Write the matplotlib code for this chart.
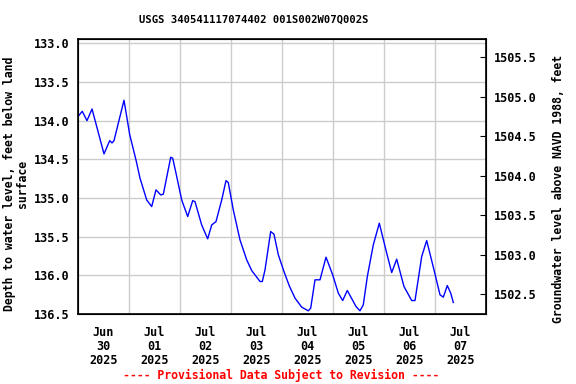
import matplotlib
matplotlib.use("Agg")
import matplotlib.pyplot as plt
import numpy as np

# days since Jun 30 2025 00:00, depth to water (ft below land surface)
days = [0.020, 0.084, 0.176, 0.275, 0.510, 0.622, 0.667, 0.706, 0.902, 1.014,
        1.143, 1.216, 1.347, 1.445, 1.529, 1.622, 1.673, 1.818, 1.857, 1.922,
        2.033, 2.151, 2.249, 2.294, 2.425, 2.543, 2.622, 2.706, 2.818, 2.902,
        2.947, 3.045, 3.176, 3.308, 3.406, 3.504, 3.569, 3.614, 3.667, 3.778,
        3.843, 3.928, 4.039, 4.143, 4.255, 4.386, 4.516, 4.563, 4.647, 4.745,
        4.863, 4.994, 5.104, 5.190, 5.280, 5.451, 5.529, 5.594, 5.673, 5.790,
        5.908, 6.053, 6.151, 6.249, 6.392, 6.543, 6.608, 6.739, 6.837, 6.980,
        7.098, 7.163, 7.241, 7.308, 7.359]
depth = [133.930, 133.879, 134.000, 133.849, 134.430, 134.258, 134.288, 134.258, 133.736, 134.181,
         134.525, 134.744, 135.025, 135.111, 134.895, 134.960, 134.951, 134.473, 134.486, 134.680,
         135.025, 135.240, 135.034, 135.047, 135.348, 135.528, 135.348, 135.305, 135.025, 134.775,
         134.801, 135.154, 135.541, 135.800, 135.938, 136.023, 136.080, 136.080, 135.929, 135.434,
         135.468, 135.735, 135.951, 136.136, 136.295, 136.411, 136.459, 136.424, 136.058, 136.058,
         135.765, 135.994, 136.230, 136.326, 136.196, 136.403, 136.459, 136.381, 136.016, 135.606,
         135.326, 135.713, 135.964, 135.791, 136.145, 136.326, 136.326, 135.757, 135.550, 135.929,
         136.252, 136.282, 136.132, 136.230, 136.351]

date_labels = ["Jun\n30\n2025", "Jul\n01\n2025", "Jul\n02\n2025", "Jul\n03\n2025",
               "Jul\n04\n2025", "Jul\n05\n2025", "Jul\n06\n2025", "Jul\n07\n2025"]
left_ticks = [133.0, 133.5, 134.0, 134.5, 135.0, 135.5, 136.0, 136.5]
right_ticks = [1502.5, 1503.0, 1503.5, 1504.0, 1504.5, 1505.0, 1505.5]

plt.rcParams['font.family'] = 'DejaVu Sans Mono'
plt.rcParams['font.weight'] = 'bold'
fs = 8.5

fig = plt.figure(figsize=(5.76, 3.84), dpi=100)
ax = fig.add_axes([78/576, 70/384, 408/576, 275/384])

ax.plot(days, depth, color='#0000ff', linewidth=1.0)

ax.set_xlim(0, 8)
ax.set_ylim(136.5, 132.944)
ax.set_xticks(np.arange(1, 8))
ax.set_xticklabels([])
ax.set_xticks(np.arange(8) + 0.5, minor=True)
ax.set_xticklabels(date_labels, minor=True, fontsize=fs, fontweight='bold', linespacing=1.05)
ax.tick_params(axis='x', which='both', length=0, pad=9)
ax.set_yticks(left_ticks)
ax.set_yticklabels(["%.1f" % v for v in left_ticks], fontsize=fs, fontweight='bold')
ax.tick_params(axis='y', length=0, pad=6)
ax.grid(True, which='major', color='#cccccc', linewidth=1)
for s in ax.spines.values():
    s.set_linewidth(1.2)

ax.set_ylabel("Depth to water level, feet below land\nsurface", fontsize=8.3, fontweight='bold',
              linespacing=1.0)
ax.yaxis.set_label_coords(-49/408, 0.4745)

ax2 = ax.twinx()
ax2.set_ylim(1502.247, 1505.732)
ax2.set_yticks(right_ticks)
ax2.set_yticklabels(["%.1f" % v for v in right_ticks], fontsize=fs, fontweight='bold')
ax2.tick_params(axis='y', direction='in', length=4, pad=6)
ax2.set_ylabel("Groundwater level above NAVD 1988, feet", fontsize=8.3, fontweight='bold')
ax2.yaxis.set_label_coords(1 + 66/408, 0.4545)

fig.text(254/576, 1 - 20/384, "USGS 340541117074402 001S002W07Q002S", ha='center', va='center',
         fontsize=7.6, fontweight='bold')
fig.text(281/576, 1 - 375/384, "---- Provisional Data Subject to Revision ----", ha='center',
         va='center', fontsize=8.3, fontweight='bold', color='red')

fig.savefig("out.png", dpi=100)
